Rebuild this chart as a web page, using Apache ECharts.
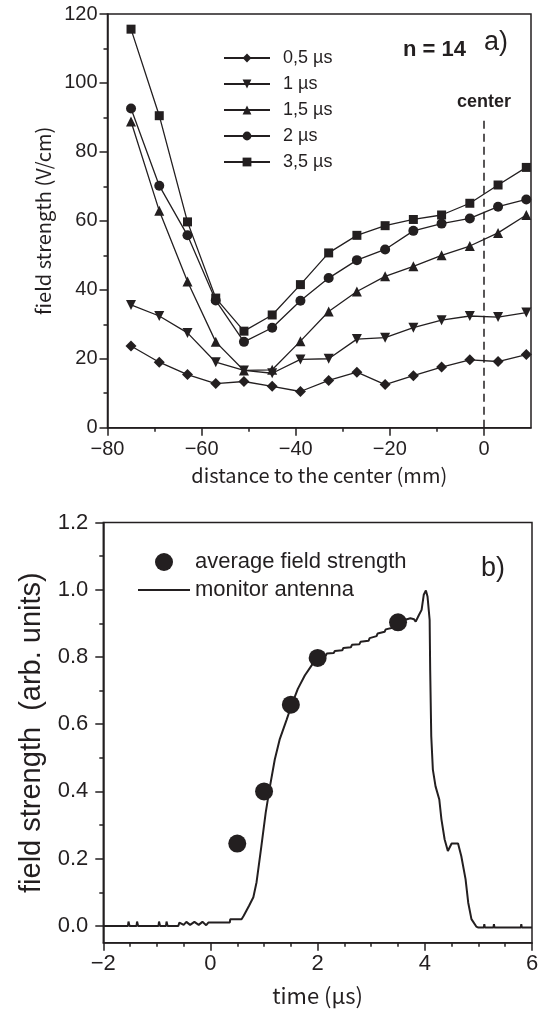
<!DOCTYPE html>
<html>
<head>
<meta charset="utf-8">
<script src="https://cdn.jsdelivr.net/npm/echarts@6/dist/echarts.min.js"></script>
<style>
html,body{margin:0;padding:0;background:#fff;}
#chart{width:538px;height:1016px;}
</style>
</head>
<body>
<div id="chart"></div>
<script>
// ---------- Panel a) ----------
const distances = [-75, -69, -63, -57, -51, -45, -39, -33, -27, -21, -15, -9, -3, 3, 9];
const seriesNamesA = ['0,5 µs', '1 µs', '1,5 µs', '2 µs', '3,5 µs'];
const field05 = [23.7, 19.0, 15.4, 12.8, 13.4, 12.0, 10.5, 13.7, 16.1, 12.5, 15.1, 17.6, 19.7, 19.2, 21.2];
const field1  = [35.6, 32.4, 27.5, 19.0, 16.6, 15.8, 19.8, 20.0, 25.7, 26.1, 29.0, 31.2, 32.4, 32.1, 33.4];
const field15 = [88.8, 62.9, 42.4, 24.9, 16.6, 16.8, 25.1, 33.7, 39.5, 43.9, 46.8, 50.0, 52.7, 56.5, 61.7];
const field2  = [92.6, 70.2, 55.8, 36.9, 24.9, 29.0, 36.8, 43.4, 48.6, 51.7, 57.1, 59.2, 60.7, 64.1, 66.2];
const field35 = [115.6, 90.5, 59.7, 37.6, 28.0, 32.7, 41.5, 50.7, 55.8, 58.6, 60.4, 61.7, 65.1, 70.4, 75.5];
const xTicksA = [-80, -60, -40, -20, 0];
const xMinorTicksA = [-70, -50, -30, -10];
const centerLineTop = 90;

// ---------- Panel b) ----------
const avgTimes = [0.5, 1.0, 1.5, 2.0, 3.5];
const avgField = [0.245, 0.40, 0.658, 0.797, 0.903];
const monitorTimes = [-2, -1.54, -1.53, -1.51, -1.38, -1.37, -1.35, -0.97, -0.96, -0.94, -0.83, -0.82, -0.80,
  -0.60, -0.58, -0.50, -0.45, -0.38, -0.30, -0.22, -0.15, -0.08, -0.04, 0.36, 0.37, 0.58, 0.62, 0.67, 0.72,
  0.80, 0.86, 0.95, 1.03, 1.11, 1.20, 1.29, 1.42, 1.51, 1.63, 1.76, 1.91, 2.04, 2.15, 2.17, 2.30, 2.32,
  2.46, 2.48, 2.62, 2.64, 2.78, 2.80, 2.95, 2.97, 3.10, 3.12, 3.25, 3.27, 3.38, 3.40, 3.51, 3.73, 3.80, 3.83,
  3.89, 3.94, 3.98, 4.02, 4.05, 4.09, 4.10, 4.12, 4.15, 4.20, 4.27, 4.31, 4.37, 4.43, 4.50, 4.62, 4.68,
  4.76, 4.81, 4.87, 4.96, 5.00, 5.10, 5.11, 5.12, 5.28, 5.29, 5.30, 5.79, 5.80, 5.81, 6.0];
const monitorField = [0, 0, 0.013, 0, 0, 0.013, 0, 0, 0.013, 0, 0, 0.013, 0,
  0, 0.010, 0.003, 0.012, 0.003, 0.012, 0.003, 0.012, 0.002, 0.010, 0.010, 0.020, 0.020, 0.030, 0.045, 0.060,
  0.085, 0.130, 0.237, 0.336, 0.415, 0.495, 0.554, 0.613, 0.655, 0.705, 0.745, 0.780, 0.800, 0.803, 0.810, 0.812, 0.818,
  0.820, 0.827, 0.829, 0.836, 0.838, 0.845, 0.848, 0.856, 0.862, 0.870, 0.875, 0.882, 0.886, 0.893, 0.905, 0.915, 0.912, 0.905,
  0.925, 0.940, 0.985, 0.998, 0.980, 0.910, 0.762, 0.564, 0.465, 0.415, 0.376, 0.317, 0.257, 0.223, 0.245, 0.245, 0.208,
  0.139, 0.069, 0.020, -0.002, -0.005, -0.005, 0.005, -0.005, -0.005, 0.005, -0.005, -0.005, 0.005, -0.005, -0.005];
const yTicksB = [0, 0.2, 0.4, 0.6, 0.8, 1.0, 1.2];
const yMinorTicksB = [0.1, 0.3, 0.5, 0.7, 0.9, 1.1];

const INK = '#231f20';
const SANS = '"Liberation Sans", Arial, sans-serif';
const GOTHIC = '"Noto Sans CJK JP", "Liberation Sans", sans-serif';
const minusFmt = v => (v < 0 ? '\u2212' + Math.abs(v) : String(v));

const chart = echarts.init(document.getElementById('chart'), null, {renderer: 'canvas'});

function lineSeriesA(name, values, symbol, size, rotate, extra) {
  return Object.assign({
    name: name,
    type: 'line',
    xAxisIndex: 0, yAxisIndex: 0,
    data: distances.map((d, i) => [d, values[i]]),
    symbol: symbol, symbolSize: size, symbolRotate: rotate || 0,
    showAllSymbol: true,
    lineStyle: {color: INK, width: 1.3},
    itemStyle: {color: INK, borderWidth: 0, opacity: 1},
    emphasis: {disabled: true},
    animation: false,
    z: 3
  }, extra || {});
}

const axisLineStyle = {show: true, onZero: false, lineStyle: {color: INK, width: 1.5}};
const hiddenLine = {show: false, onZero: false};

const option = {
  animation: false,
  backgroundColor: '#fff',
  grid: [
    {left: 107.5, top: 14, width: 423.5, height: 413.7, show: true, borderColor: INK, borderWidth: 1.5, backgroundColor: 'transparent', outerBoundsMode: 'none', containLabel: false},
    {left: 103.3, top: 522.5, width: 428.7, height: 420.2, show: true, borderColor: INK, borderWidth: 1.5, backgroundColor: 'transparent', outerBoundsMode: 'none', containLabel: false}
  ],
  xAxis: [
    {
      gridIndex: 0, type: 'value', min: -80, max: 10, position: 'bottom',
      name: 'distance to the center (mm)', nameLocation: 'middle', nameGap: 38,
      nameTextStyle: {fontFamily: GOTHIC, fontSize: 20, color: INK},
      axisLine: axisLineStyle,
      axisTick: {show: true, length: 8, customValues: xTicksA, lineStyle: {color: INK, width: 1.5}},
      axisLabel: {customValues: xTicksA, formatter: minusFmt, fontFamily: SANS, fontSize: 20, color: INK, margin: 12},
      splitLine: {show: false}
    },
    {
      gridIndex: 1, type: 'value', min: -2, max: 6, interval: 2, position: 'bottom',
      name: 'time (µs)', nameLocation: 'middle', nameGap: 42,
      nameTextStyle: {fontFamily: GOTHIC, fontSize: 22, color: INK},
      axisLine: axisLineStyle,
      axisTick: {show: true, length: 8, lineStyle: {color: INK, width: 1.5}},
      minorTick: {show: true, splitNumber: 4, length: 4, lineStyle: {color: INK, width: 1.5}},
      axisLabel: {formatter: minusFmt, fontFamily: SANS, fontSize: 22, color: INK, margin: 10},
      splitLine: {show: false}
    },
    {
      gridIndex: 0, type: 'value', min: -80, max: 10, position: 'bottom', offset: 0,
      axisLine: hiddenLine,
      axisTick: {show: true, length: 4, customValues: xMinorTicksA, lineStyle: {color: INK, width: 1.5}},
      axisLabel: {show: false},
      splitLine: {show: false}
    }
  ],
  yAxis: [
    {
      gridIndex: 0, type: 'value', min: 0, max: 120, interval: 20, position: 'left',
      name: 'field strength (V/cm)', nameLocation: 'middle', nameGap: 50, nameRotate: 90,
      nameTextStyle: {fontFamily: GOTHIC, fontSize: 20, color: INK},
      axisLine: axisLineStyle,
      axisTick: {show: true, length: 8, lineStyle: {color: INK, width: 1.5}},
      minorTick: {show: true, splitNumber: 2, length: 4, lineStyle: {color: INK, width: 1.5}},
      axisLabel: {fontFamily: SANS, fontSize: 20, color: INK, margin: 10},
      splitLine: {show: false}
    },
    {
      gridIndex: 1, type: 'value', min: -0.05, max: 1.2, position: 'left',
      name: 'field strength  (arb. units)', nameLocation: 'middle', nameGap: 57, nameRotate: 90,
      nameTextStyle: {fontFamily: SANS, fontSize: 29, color: INK},
      axisLine: axisLineStyle,
      axisTick: {show: true, length: 8, customValues: yTicksB, lineStyle: {color: INK, width: 1.5}},
      axisLabel: {customValues: yTicksB, formatter: v => v.toFixed(1), fontFamily: SANS, fontSize: 22, color: INK, margin: 15},
      splitLine: {show: false}
    },
    {
      gridIndex: 1, type: 'value', min: -0.05, max: 1.2, position: 'left', offset: 0,
      axisLine: hiddenLine,
      axisTick: {show: true, length: 4, customValues: yMinorTicksB, lineStyle: {color: INK, width: 1.5}},
      axisLabel: {show: false},
      splitLine: {show: false}
    }
  ],
  legend: [
    {
      data: seriesNamesA,
      orient: 'vertical', left: 218, top: 44,
      itemWidth: 46, itemHeight: 11, itemGap: 8,
      textStyle: {fontFamily: SANS, fontSize: 18, color: INK, padding: [0, 0, 0, 8]},
      selectedMode: false
    },
    {
      data: [
        {name: 'average field strength', icon: 'circle'},
        {name: 'monitor antenna', icon: 'path://M0,0H50V2H0Z'}
      ],
      orient: 'vertical', left: 133, top: 546,
      itemWidth: 52, itemHeight: 18, itemGap: 6,
      textStyle: {fontFamily: SANS, fontSize: 22, color: INK},
      selectedMode: false
    }
  ],
  series: [
    lineSeriesA(seriesNamesA[0], field05, 'diamond', 11, 0, {
      markLine: {
        silent: true, symbol: ['none', 'none'], animation: false,
        lineStyle: {color: INK, width: 1.5, type: [8, 5]},
        label: {show: true, position: 'end', formatter: 'center', fontFamily: SANS, fontWeight: 'bold', fontSize: 18, color: INK, distance: 6},
        data: [[{coord: [0, 0]}, {coord: [0, centerLineTop]}]]
      }
    }),
    lineSeriesA(seriesNamesA[1], field1, 'triangle', 10, 180),
    lineSeriesA(seriesNamesA[2], field15, 'triangle', 10, 0),
    lineSeriesA(seriesNamesA[3], field2, 'circle', 10, 0),
    lineSeriesA(seriesNamesA[4], field35, 'rect', 9, 0),
    {
      name: 'monitor antenna', type: 'line', xAxisIndex: 1, yAxisIndex: 1,
      data: monitorTimes.map((t, i) => [t, monitorField[i]]),
      symbol: 'none', showSymbol: false,
      lineStyle: {color: INK, width: 2},
      itemStyle: {color: INK, opacity: 1},
      emphasis: {disabled: true}, z: 3
    },
    {
      name: 'average field strength', type: 'scatter', xAxisIndex: 1, yAxisIndex: 1,
      data: avgTimes.map((t, i) => [t, avgField[i]]),
      symbol: 'circle', symbolSize: 18,
      itemStyle: {color: INK, opacity: 1},
      emphasis: {disabled: true}, z: 4
    }
  ],
  graphic: [
    {type: 'text', left: 403, top: 39, style: {text: 'n = 14', font: 'bold 22px "Liberation Sans", Arial, sans-serif', fill: INK}},
    {type: 'text', left: 484, top: 29, style: {text: 'a)', font: '27px "Liberation Sans", Arial, sans-serif', fill: INK}},
    {type: 'text', left: 481, top: 555, style: {text: 'b)', font: '27px "Liberation Sans", Arial, sans-serif', fill: INK}}
  ]
};

chart.setOption(option);
</script>
</body>
</html>
